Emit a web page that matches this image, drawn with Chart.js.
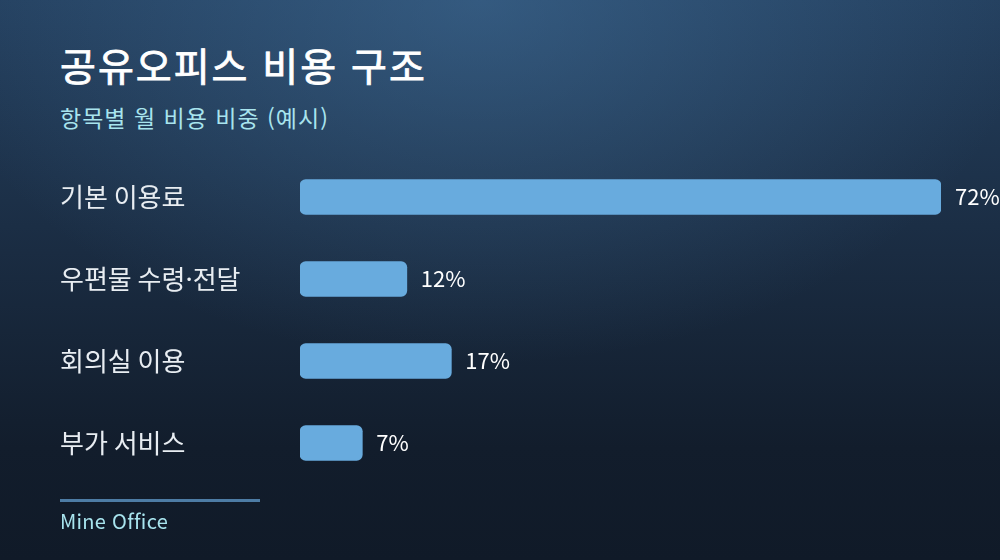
<!DOCTYPE html>
<html lang="ko">
<head>
<meta charset="utf-8">
<title>공유오피스 비용 구조</title>
<script src="https://cdn.jsdelivr.net/npm/chart.js@4.4.1/dist/chart.umd.min.js"></script>
<style>
    html, body {
        margin: 0;
        padding: 0;
    }

    body {
        width: 1000px;
        height: 560px;
        overflow: hidden;
        position: relative;
        font-family: "Noto Sans CJK KR", "Noto Sans", sans-serif;
        background:
            radial-gradient(ellipse 55% 65% at 48% 0%, rgba(72, 122, 168, 0.45), rgba(72, 122, 168, 0) 100%),
            linear-gradient(180deg, #24405f 0%, #1a2c42 45%, #121d2c 80%, #101a28 100%);
    }

    #title {
        position: absolute;
        left: 60px;
        top: 45px;
        font-size: 39px;
        line-height: 1;
        font-weight: 400;
        letter-spacing: 2px;
        color: #ffffff;
        -webkit-text-stroke: 0.8px #ffffff;
    }

    #subtitle {
        position: absolute;
        left: 60px;
        top: 106px;
        font-size: 23px;
        line-height: 1;
        letter-spacing: 1px;
        color: #a8e4ee;
    }

    #footerLine {
        position: absolute;
        left: 60px;
        top: 499px;
        width: 200px;
        height: 3px;
        background: #4d7ca5;
    }

    #footer {
        position: absolute;
        left: 60px;
        top: 511px;
        font-size: 20px;
        line-height: 1;
        letter-spacing: 0.3px;
        color: #a8e4ee;
    }

    #costChart {
        position: absolute;
        left: 0;
        top: 0;
    }
</style>
</head>
<body>

<div id="title">공유오피스 비용 구조</div>
<div id="subtitle">항목별 월 비용 비중 (예시)</div>

<canvas id="costChart" width="1000" height="560"></canvas>

<div id="footerLine"></div>
<div id="footer">Mine Office</div>

<script>
const categories = ["기본 이용료", "우편물 수령·전달", "회의실 이용", "부가 서비스"];
const shares = [72, 12, 17, 7];

// draws "72%" etc. just right of each bar
const valueLabels = {

    id: "valueLabels",

    afterDatasetsDraw(chart) {

        const ctx = chart.ctx;
        const meta = chart.getDatasetMeta(0);

        ctx.save();
        ctx.font = "22px 'Noto Sans CJK KR', 'Noto Sans', sans-serif";
        ctx.fillStyle = "#ffffff";
        ctx.textAlign = "left";
        ctx.textBaseline = "middle";

        meta.data.forEach((bar, i) => {
            ctx.fillText(shares[i] + "%", bar.x + 14, bar.y);
        });

        ctx.restore();

    }

};

const chart = new Chart(document.getElementById("costChart"), {

    type: "bar",

    data: {

        labels: categories,

        datasets: [

            {
                data: shares,
                backgroundColor: "#68abde",
                borderRadius: 6,
                borderSkipped: false,
                barThickness: 35
            }

        ]

    },

    options: {

        indexAxis: "y",

        responsive: false,

        animation: false,

        layout: {
            padding: {
                left: 60,
                right: 59,
                top: 156,
                bottom: 76
            }
        },

        scales: {

            x: {
                display: false,
                min: 0,
                max: Math.max(...shares)
            },

            y: {
                afterFit(axis) {
                    axis.width = 240;
                },
                grid: {
                    display: false
                },
                border: {
                    display: false
                },
                ticks: {
                    crossAlign: "far",
                    color: "#e8edf2",
                    padding: 0,
                    font: {
                        family: "'Noto Sans CJK KR', 'Noto Sans', sans-serif",
                        size: 26
                    }
                }
            }

        },

        plugins: {

            legend: {
                display: false
            },

            tooltip: {
                enabled: false
            }

        }

    },

    plugins: [valueLabels]

});
</script>

</body>
</html>
